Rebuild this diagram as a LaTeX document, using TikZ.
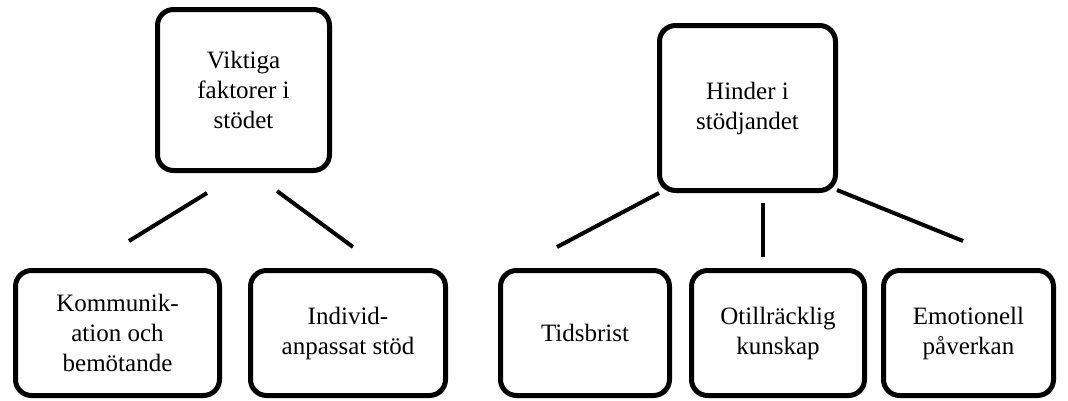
\documentclass[tikz,border=0pt]{standalone}
\usepackage{fontspec}
\setmainfont{Liberation Serif}
\begin{document}
\begin{tikzpicture}[x=1pt,y=-1pt,
  box/.style={draw=black,line width=5pt,rounded corners=16pt,align=center,
    font=\fontsize{25}{30}\selectfont,inner sep=0pt,minimum height=125pt},
  conn/.style={line width=4pt}]
\useasboundingbox (0,0) rectangle (1068,400);
\node[box,minimum width=172pt,minimum height=161pt] (vf) at (243.5,90) {Viktiga\\faktorer i\\stödet};
\node[box,minimum width=176pt,minimum height=165pt] (hs) at (747.5,108) {Hinder i\\stödjandet};
\node[box,minimum width=204pt] (kb) at (117.5,333) {Kommunik-\\ation och\\bemötande};
\node[box,minimum width=195pt] (ia) at (348,333) {Individ-\\anpassat stöd};
\node[box,minimum width=169pt] (tb) at (585,333) {Tidsbrist};
\node[box,minimum width=173pt] (ok) at (778,333) {Otillräcklig\\kunskap};
\node[box,minimum width=170pt] (ep) at (968.5,333) {Emotionell\\påverkan};
\coordinate (a1) at (207,193); \coordinate (a2) at (129,241);
\coordinate (b1) at (277,191); \coordinate (b2) at (353,247);
\coordinate (c1) at (659,193); \coordinate (c2) at (557,247);
\coordinate (d1) at (763,203); \coordinate (d2) at (763,257);
\coordinate (e1) at (837,190); \coordinate (e2) at (963,241);
\draw[conn] (a1) -- (a2);
\draw[conn] (b1) -- (b2);
\draw[conn] (c1) -- (c2);
\draw[conn] (d1) -- (d2);
\draw[conn] (e1) -- (e2);
\end{tikzpicture}
\end{document}
